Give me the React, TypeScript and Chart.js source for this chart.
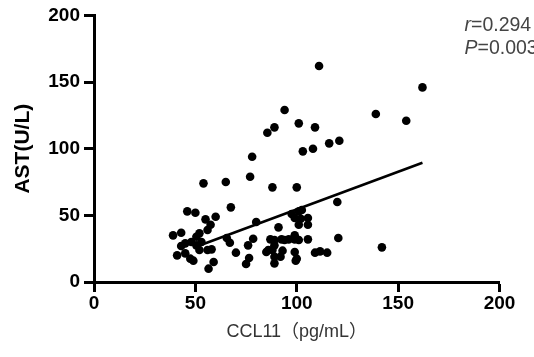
import React, { useEffect, useRef } from "react";
import { Chart, registerables } from "chart.js";

Chart.register(...registerables);

// CCL11 (pg/mL) values
const ccl11: number[] = [
  111, 162, 139, 154, 94, 101, 109, 89, 85.5, 116, 121, 103, 108, 78, 77, 100, 88, 65, 54, 120, 67.5, 120.5, 142,
  46, 50, 60, 55, 57.5, 56, 52, 50.5, 39, 43, 45, 48, 53, 50.5, 43, 41, 45, 47.5, 49, 52, 56, 58, 59, 56.5, 65.5, 67, 70, 75, 76.5, 76, 78.5,
  80, 85, 87, 89, 91, 89, 89, 88, 86, 89, 92.5, 96, 93, 97.5, 101, 102.5, 99, 102, 105.5, 101, 105.5, 99, 99, 101, 105.5, 99, 100, 99.5, 109, 111.5, 115, 92, 94,
];
// AST (U/L) values
const ast: number[] = [
  162, 146, 126, 121, 129, 119, 116, 116, 112, 104, 106, 98, 100, 94, 79, 71, 71, 75, 74, 60, 56, 33, 26,
  53, 52, 49, 47, 43, 39, 36.5, 34, 35, 37, 29, 30, 30, 27.5, 27, 20, 21.5, 17.5, 16, 24, 24, 24.5, 15, 10, 33, 29.5, 22, 13.5, 18, 27.5, 32.5,
  45, 22.5, 32, 31.5, 41, 14, 19, 24, 24, 27.5, 32, 32, 23.5, 51, 53, 54, 48, 47.5, 48, 43, 43, 35, 32, 31.5, 32, 22.5, 17.5, 16, 22, 23, 22, 19, 31.5,
];
// Regression line end points
const fitX: number[] = [52, 162];
const fitY: number[] = [27.4, 89.4];

const axisTicks: number[] = [0, 50, 100, 150, 200];
const statsLines: [string, string][] = [["r", "=0.294"], ["P", "=0.003"]];

const FONT = "'Liberation Sans', Arial, Helvetica, sans-serif";

export default function App() {
  const ref = useRef<HTMLCanvasElement>(null);
  useEffect(() => {
    const canvas = ref.current!;
    const statsPlugin = {
      id: "stats",
      afterDraw(chart: any) {
        const ctx = chart.ctx;
        ctx.save();
        ctx.fillStyle = "#444";
        ctx.textBaseline = "alphabetic";
        ctx.textAlign = "left";
        const x0 = chart.chartArea.right - 35;
        statsLines.forEach(([v, rest], i) => {
          const y = 31 + i * 23;
          ctx.font = `italic 19.5px ${FONT}`;
          ctx.fillText(v, x0, y);
          const w = ctx.measureText(v).width;
          ctx.font = `19.5px ${FONT}`;
          ctx.fillText(rest, x0 + w, y);
        });
        ctx.restore();
      },
    };
    const chart = new Chart(canvas, {
      type: "scatter",
      data: {
        datasets: [
          {
            type: "scatter",
            data: ccl11.map((x, i) => ({ x, y: ast[i] })),
            pointRadius: 4.3,
            pointBackgroundColor: "#000",
            pointBorderWidth: 0,
            order: 2,
          },
          {
            type: "line",
            data: fitX.map((x, i) => ({ x, y: fitY[i] })),
            borderColor: "#000",
            borderWidth: 2.6,
            pointRadius: 0,
            showLine: true,
            order: 1,
          } as any,
        ],
      },
      options: {
        animation: false,
        responsive: false,
        devicePixelRatio: 1,
        layout: { padding: { top: 15, right: 34.5, left: 0, bottom: 0 } },
        plugins: { legend: { display: false }, tooltip: { enabled: false } },
        scales: {
          x: {
            type: "linear",
            min: 0,
            max: 200,
            afterBuildTicks: (s: any) => {
              s.ticks = axisTicks.map((v) => ({ value: v }));
            },
            afterFit: (s: any) => {
              s.height = 75;
            },
            border: { display: true, color: "#000", width: 3 },
            grid: { display: true, drawOnChartArea: false, drawTicks: true, tickLength: 10, tickWidth: 3, tickColor: "#000", color: "#000" },
            ticks: { color: "#000", padding: 0, font: { family: FONT, size: 19, weight: "bold" }, maxRotation: 0 },
            title: {
              display: true,
              text: "CCL11（pg/mL）",
              color: "#333",
              font: { family: FONT + ", 'Noto Sans CJK SC'", size: 18 },
              padding: { top: 0, bottom: 14 },
            },
          },
          y: {
            type: "linear",
            min: 0,
            max: 200,
            afterBuildTicks: (s: any) => {
              s.ticks = axisTicks.map((v) => ({ value: v }));
            },
            afterFit: (s: any) => {
              s.width = 94;
            },
            border: { display: true, color: "#000", width: 3 },
            grid: { display: true, drawOnChartArea: false, drawTicks: true, tickLength: 10, tickWidth: 3, tickColor: "#000", color: "#000" },
            ticks: { color: "#000", padding: 4, font: { family: FONT, size: 19, weight: "bold" } },
            title: {
              display: true,
              text: "AST(U/L)",
              color: "#000",
              font: { family: FONT, size: 21, weight: "bold" },
              padding: { top: 11, bottom: 0 },
            },
          },
        },
      },
      plugins: [statsPlugin],
    } as any);
    return () => chart.destroy();
  }, []);
  return (
    <div style={{ position: "fixed", left: 0, top: 0, width: 534, height: 357, background: "#fff" }}>
      <canvas ref={ref} width={534} height={357} style={{ width: 534, height: 357, display: "block" }} />
    </div>
  );
}
